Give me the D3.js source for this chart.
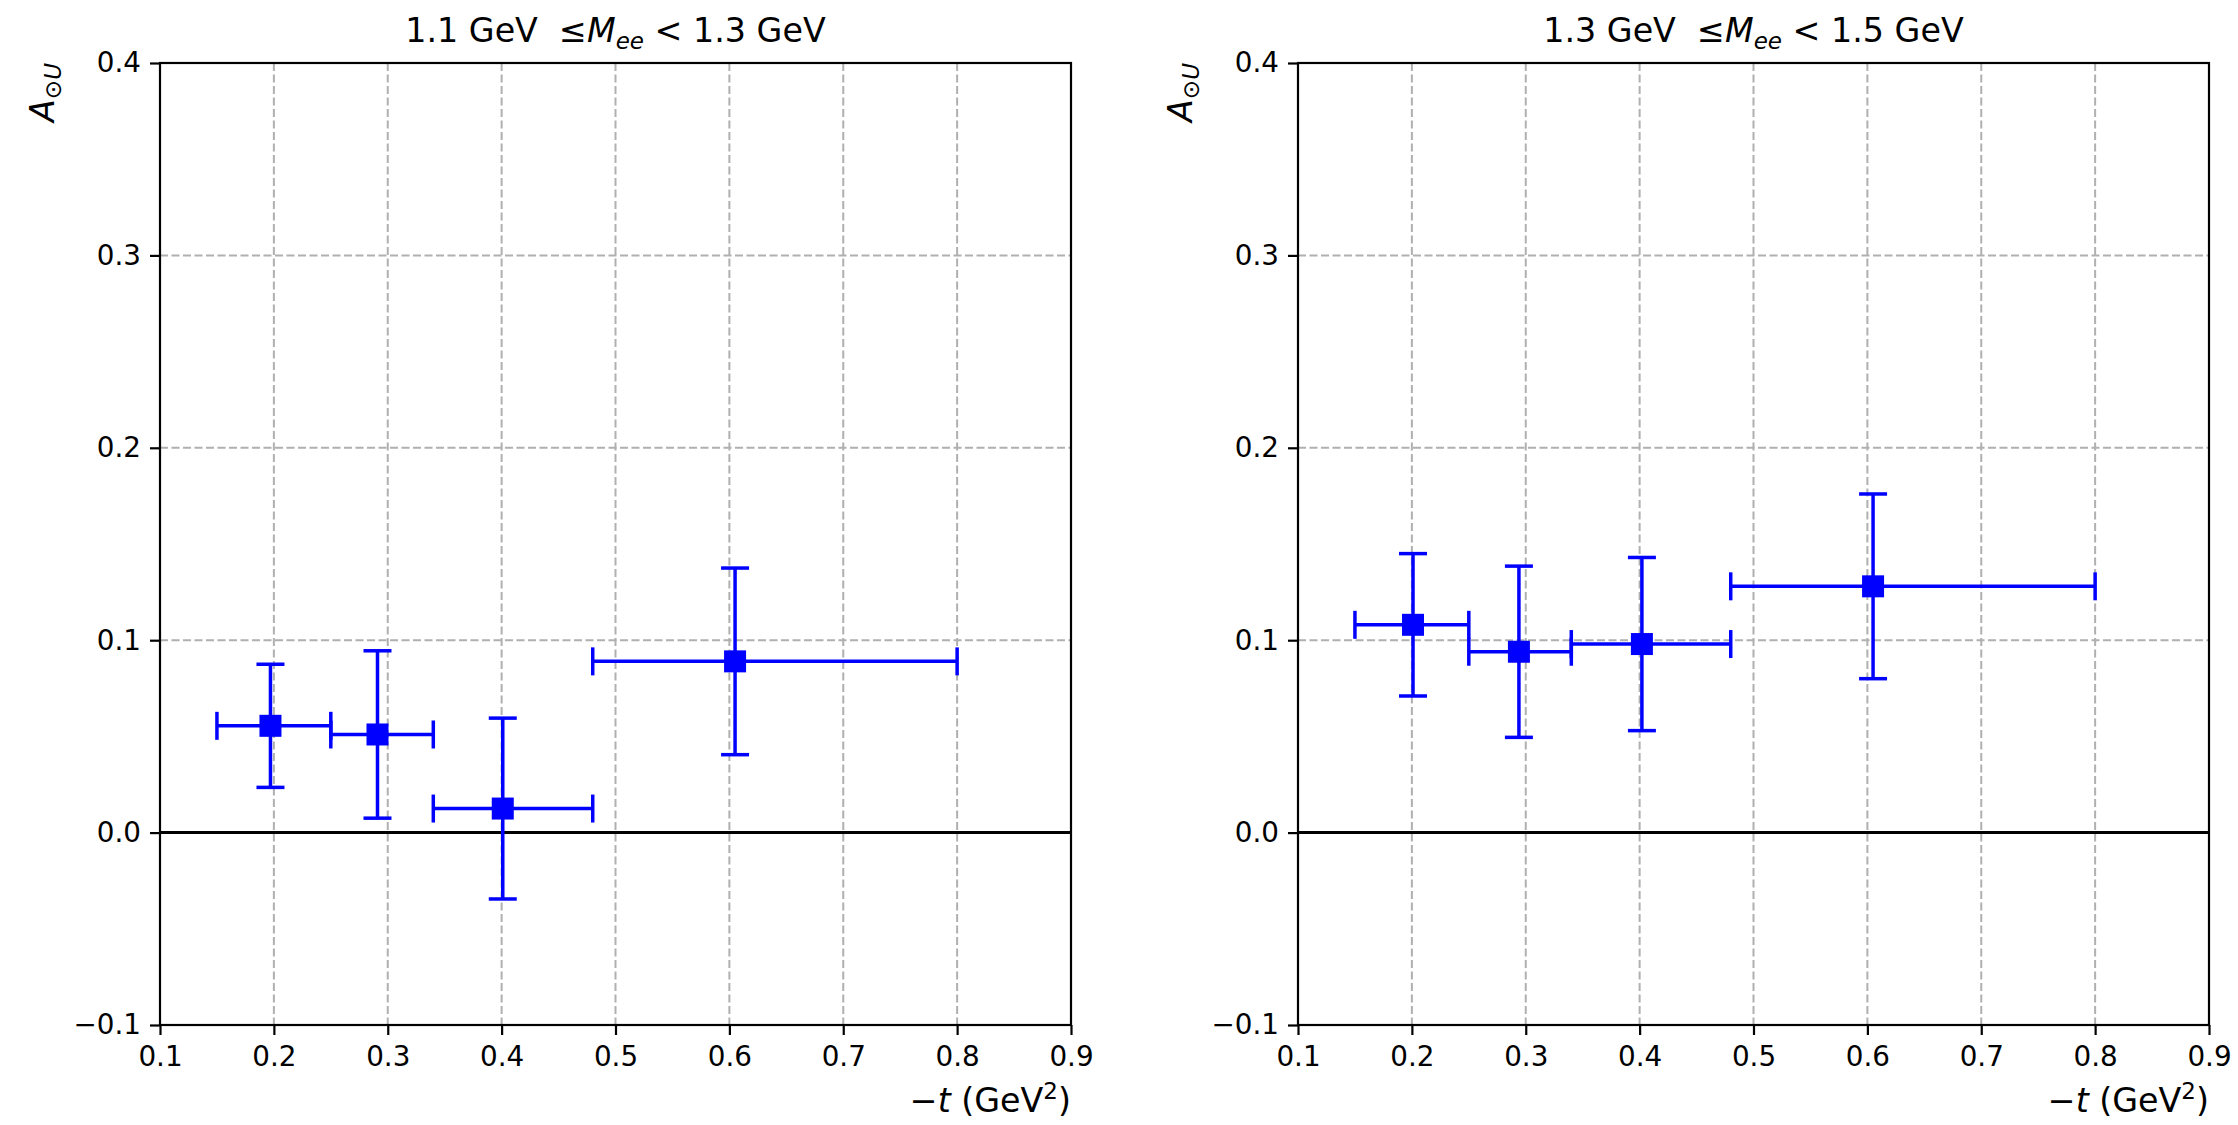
<!DOCTYPE html>
<html>
<head>
<meta charset="utf-8">
<script src="https://cdn.jsdelivr.net/npm/d3@7"></script>
<style>
  html, body { margin: 0; padding: 0; background: #fff; }
  svg { display: block; }
  text { font-family: "DejaVu Sans", sans-serif; fill: #000; }
</style>
</head>
<body>
<svg id="chart" width="2238" height="1125"></svg>
<script>
// ---- data ----
const xTicks = [0.1, 0.2, 0.3, 0.4, 0.5, 0.6, 0.7, 0.8, 0.9];
const yTicks = [-0.1, 0.0, 0.1, 0.2, 0.3, 0.4];

// -t bin edges (same for both mass bins)
const binLo = [0.15, 0.25, 0.34, 0.48];
const binHi = [0.25, 0.34, 0.48, 0.80];

// 1.1 GeV <= Mee < 1.3 GeV
const tMeanLow = [0.197, 0.291, 0.401, 0.605];
const asymLow  = [0.0555, 0.051, 0.0125, 0.089];
const errLow   = [0.032, 0.0435, 0.047, 0.0485];

// 1.3 GeV <= Mee < 1.5 GeV
const tMeanHigh = [0.201, 0.294, 0.402, 0.605];
const asymHigh  = [0.108, 0.094, 0.098, 0.128];
const errHigh   = [0.037, 0.0445, 0.045, 0.048];

const massLo = ["1.1", "1.3"];
const massHi = ["1.3", "1.5"];

// ---- layout ----
const plotTop = 63, plotBottom = 1025;
const panels = [
  { left: 160,  right: 1071, t: tMeanLow,  a: asymLow,  e: errLow,  mlo: massLo[0], mhi: massHi[0] },
  { left: 1298, right: 2209, t: tMeanHigh, a: asymHigh, e: errHigh, mlo: massLo[1], mhi: massHi[1] }
];

const blue = "#0000ff";
const fontTick = 27.8;
const fontLabel = 33.3;
const svg = d3.select("#chart");

panels.forEach(p => {
  const x = d3.scaleLinear().domain([0.1, 0.9]).range([p.left, p.right]);
  const y = d3.scaleLinear().domain([-0.1, 0.4]).range([plotBottom, plotTop]);
  const g = svg.append("g");

  // grid
  g.append("g").selectAll("line").data(xTicks).enter().append("line")
    .attr("x1", d => x(d)).attr("x2", d => x(d))
    .attr("y1", plotTop).attr("y2", plotBottom)
    .attr("stroke", "#b0b0b0").attr("stroke-width", 2)
    .attr("stroke-dasharray", "8,3.5");
  g.append("g").selectAll("line").data(yTicks).enter().append("line")
    .attr("x1", p.left).attr("x2", p.right)
    .attr("y1", d => y(d)).attr("y2", d => y(d))
    .attr("stroke", "#b0b0b0").attr("stroke-width", 2)
    .attr("stroke-dasharray", "8,3.5");

  // zero line
  g.append("line")
    .attr("x1", p.left).attr("x2", p.right)
    .attr("y1", y(0)).attr("y2", y(0))
    .attr("stroke", "#000").attr("stroke-width", 3);

  // error bars
  const pts = p.t.map((t, i) => ({ t: t, a: p.a[i], e: p.e[i], lo: binLo[i], hi: binHi[i] }));
  const eb = g.append("g").attr("stroke", blue).attr("stroke-width", 3.5).attr("fill", "none");
  const cap = 14;
  pts.forEach(d => {
    eb.append("line").attr("x1", x(d.lo)).attr("x2", x(d.hi)).attr("y1", y(d.a)).attr("y2", y(d.a));
    eb.append("line").attr("x1", x(d.t)).attr("x2", x(d.t)).attr("y1", y(d.a - d.e)).attr("y2", y(d.a + d.e));
    // caps
    [d.a - d.e, d.a + d.e].forEach(v =>
      eb.append("line").attr("x1", x(d.t) - cap).attr("x2", x(d.t) + cap).attr("y1", y(v)).attr("y2", y(v)));
    [d.lo, d.hi].forEach(v =>
      eb.append("line").attr("x1", x(v)).attr("x2", x(v)).attr("y1", y(d.a) - cap).attr("y2", y(d.a) + cap));
  });
  g.append("g").selectAll("rect").data(pts).enter().append("rect")
    .attr("x", d => x(d.t) - 11).attr("y", d => y(d.a) - 11)
    .attr("width", 22).attr("height", 22)
    .attr("fill", blue);

  // axes
  const xAxis = g.append("g").attr("transform", `translate(0,${plotBottom})`)
    .call(d3.axisBottom(x).tickValues(xTicks).tickFormat(d3.format(".1f")).tickSize(10).tickPadding(11).tickSizeOuter(0));
  const yAxis = g.append("g").attr("transform", `translate(${p.left},0)`)
    .call(d3.axisLeft(y).tickValues(yTicks).tickFormat(d3.format(".1f")).tickSize(10).tickPadding(9).tickSizeOuter(0));
  [xAxis, yAxis].forEach(ax => {
    ax.select(".domain").remove();
    ax.selectAll(".tick line").attr("stroke", "#000").attr("stroke-width", 2.2);
    ax.selectAll(".tick text").attr("font-size", fontTick).attr("font-family", "DejaVu Sans");
  });

  // frame
  g.append("rect")
    .attr("x", p.left).attr("y", plotTop)
    .attr("width", p.right - p.left).attr("height", plotBottom - plotTop)
    .attr("fill", "none").attr("stroke", "#000").attr("stroke-width", 2.2);

  // title
  const title = g.append("text")
    .attr("x", (p.left + p.right) / 2).attr("y", 42)
    .attr("text-anchor", "middle").attr("font-size", fontLabel);
  title.append("tspan").text(`${p.mlo} GeV \u00a0\u2264`);
  title.append("tspan").attr("font-style", "italic").text("M");
  title.append("tspan").attr("font-style", "italic").attr("font-size", 23).attr("dy", 7).text("ee");
  title.append("tspan").attr("dy", -7).text(` < ${p.mhi} GeV`);

  // x label
  const xl = g.append("text")
    .attr("x", p.right).attr("y", 1112)
    .attr("text-anchor", "end").attr("font-size", fontLabel);
  xl.append("tspan").text("\u2212");
  xl.append("tspan").attr("font-style", "italic").text("t");
  xl.append("tspan").text(" (GeV");
  xl.append("tspan").attr("font-size", 23).attr("dy", -13).text("2");
  xl.append("tspan").attr("dy", 13).text(")");

  // y label
  const yl = g.append("text")
    .attr("transform", `translate(${p.left - 106},${plotTop}) rotate(-90)`)
    .attr("text-anchor", "end").attr("font-size", fontLabel);
  yl.append("tspan").attr("font-style", "italic").text("A");
  yl.append("tspan").attr("font-size", 23).attr("dy", 7).text("\u2299");
  yl.append("tspan").attr("font-size", 23).attr("font-style", "italic").text("U");
});
</script>
</body>
</html>
